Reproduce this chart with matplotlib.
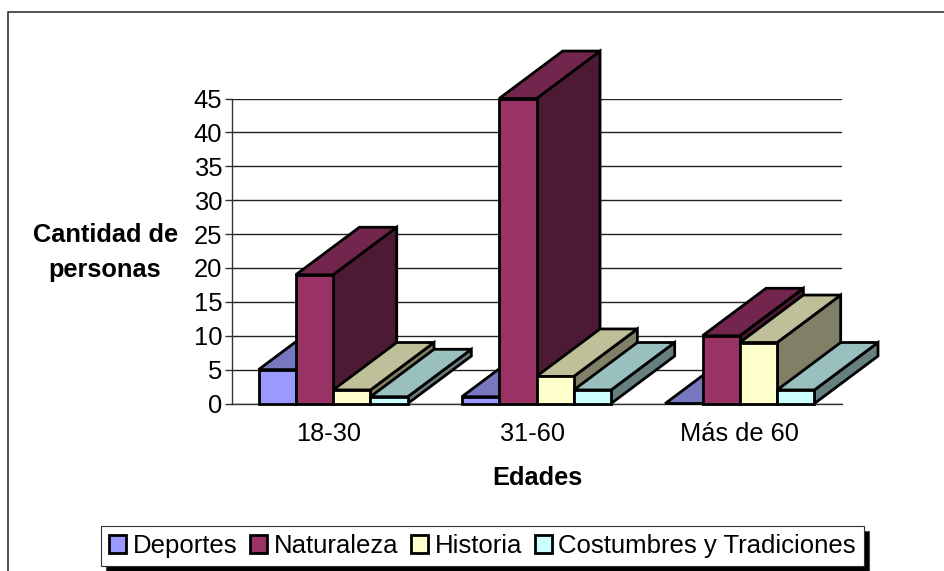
import numpy as np
import matplotlib
matplotlib.use("Agg")
import matplotlib.pyplot as plt
from matplotlib.patches import Polygon, Patch, Rectangle

plt.rcParams['font.family'] = ['Liberation Sans', 'DejaVu Sans']

categories = ['18-30', '31-60', 'Más de 60']
series = ['Deportes', 'Naturaleza', 'Historia', 'Costumbres y Tradiciones']
deportes = [5, 1, 0]
naturaleza = [19, 45, 10]
historia = [2, 4, 9]
costumbres = [1, 2, 2]
y_ticks = list(range(0, 50, 5))

front_colors = ['#9999FF', '#993366', '#FFFFCC', '#CCFFFF']
top_colors = ['#7777C0', '#73264D', '#BFBF99', '#99BFBF']
side_colors = ['#4C4C80', '#4C1A33', '#808066', '#668080']

# bar layout in axis units
bar_w = 0.1835
gap = 0.133
depth_x = 0.3125
depth_y = 7.0
W, H = 944, 571


def draw_bar(ax, x, val, idx):
    style = dict(edgecolor='black', linewidth=2.0, joinstyle='miter', clip_on=False, zorder=3)
    x2 = x + bar_w
    side = [(x2, 0), (x2 + depth_x, depth_y), (x2 + depth_x, val + depth_y), (x2, val)]
    top = [(x, val), (x2, val), (x2 + depth_x, val + depth_y), (x + depth_x, val + depth_y)]
    front = [(x, 0), (x2, 0), (x2, val), (x, val)]
    ax.add_patch(Polygon(side, facecolor=side_colors[idx], **style))
    ax.add_patch(Polygon(top, facecolor=top_colors[idx], **style))
    if val > 0:
        ax.add_patch(Polygon(front, facecolor=front_colors[idx], **style))


fig = plt.figure(figsize=(W / 100, H / 100), dpi=100)
fig.patches.append(Rectangle((7.7 / W, -0.02), 1.02, 1.02 - 11.7 / H, transform=fig.transFigure,
                             facecolor='white', edgecolor='#222222', linewidth=1.1, zorder=-1))

ax = fig.add_axes([231.5 / W, 1 - 403.5 / H, 610 / W, 305 / H])
ax.set_xlim(0, 3)
ax.set_ylim(0, 45)
ax.patch.set_alpha(0)
for s in ['top', 'right']:
    ax.spines[s].set_visible(False)
for s in ['left', 'bottom']:
    ax.spines[s].set_color('#333333')
    ax.spines[s].set_linewidth(1.0)
ax.set_yticks(y_ticks)
ax.tick_params(axis='y', labelsize=18.4, length=5, width=1, color='#333333', pad=1.7)
ax.set_xticks([0.48, 1.48, 2.5])
ax.set_xticklabels(categories)
ax.tick_params(axis='x', labelsize=18.3, length=0, pad=13)
ax.yaxis.grid(True, color='#222222', linewidth=1.0, zorder=1)
ax.set_axisbelow(True)

values = [deportes, naturaleza, historia, costumbres]
for c in range(len(categories)):
    for i, vals in enumerate(values):
        draw_bar(ax, c + gap + i * bar_w, vals[c], i)

label_size = 18.3
fig.text(105.5 / W, 1 - 235 / H, 'Cantidad de', fontsize=label_size, fontweight='bold', ha='center', va='center')
fig.text(105 / W, 1 - 270 / H, 'personas', fontsize=label_size, fontweight='bold', ha='center', va='center')
fig.text(537 / W, 1 - 478 / H, 'Edades', fontsize=label_size, fontweight='bold', ha='center', va='center')

handles = [Patch(facecolor=c, edgecolor='black', linewidth=2.0) for c in front_colors]
leg = fig.legend(handles, series, ncol=4, loc='center', bbox_to_anchor=(482.5 / W, 1 - 546 / H),
                 fontsize=18.5, frameon=True, fancybox=False, edgecolor='#333333', framealpha=1,
                 handlelength=0.66, handleheight=0.66, handletextpad=0.26, columnspacing=0.5,
                 borderpad=0.3, borderaxespad=0,
                 shadow={'facecolor': 'black', 'alpha': 1, 'ox': 3.5, 'oy': -3.5})
leg.get_frame().set_linewidth(0.8)

fig.savefig('out.png', dpi=100)
